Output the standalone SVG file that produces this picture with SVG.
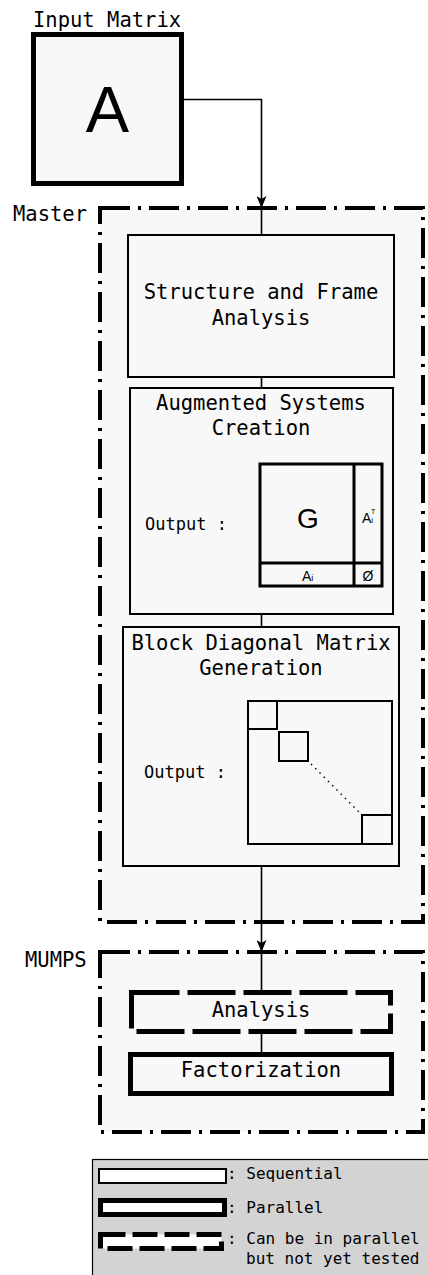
<svg xmlns="http://www.w3.org/2000/svg" width="428" height="1275" viewBox="0 0 428 1275">
<style>
.t{font-family:"DejaVu Sans Mono","Liberation Mono",monospace;fill:#000}
.h{font-size:20.5px}
.s{font-size:17px}
.l{font-size:16px}
.sans{font-family:"Liberation Sans",Arial,sans-serif;fill:#000}
.node{fill:#f8f8f8;stroke:#000;stroke-width:2}
.frame{fill:#f8f8f8;stroke:#000;stroke-width:4;stroke-dasharray:30 8 3 8}
.conn{fill:none;stroke:#000;stroke-width:1.6}
</style>
<defs>
<marker id="arr" viewBox="0 0 12 10" refX="12" refY="5" markerWidth="12" markerHeight="10" markerUnits="userSpaceOnUse" orient="auto">
<path d="M0,0 L12,5 L0,10 L3,5 z" fill="#000"/>
</marker>
</defs>
<rect width="428" height="1275" fill="#fff"/>

<g id="input">
<text class="t h" x="33" y="27">Input Matrix</text>
<rect x="33.5" y="34.5" width="148" height="149" fill="#f8f8f8" stroke="#000" stroke-width="5"/>
<text class="sans" x="107.5" y="132" font-size="65" text-anchor="middle">A</text>
</g>

<g id="master">
<rect class="frame" x="100" y="208" width="323" height="714"/>
<text class="t h" x="13" y="221">Master</text>
</g>

<g id="mumps">
<rect class="frame" x="100" y="952" width="323" height="180"/>
<text class="t h" x="25" y="967">MUMPS</text>
</g>

<g id="structure">
<rect class="node" x="128" y="235" width="266" height="142"/>
<text class="t h" x="261" y="299" text-anchor="middle">Structure and Frame</text>
<text class="t h" x="261" y="325" text-anchor="middle">Analysis</text>
</g>

<g id="augmented">
<rect class="node" x="130" y="388" width="263" height="226"/>
<text class="t h" x="261" y="410" text-anchor="middle">Augmented Systems</text>
<text class="t h" x="261" y="435" text-anchor="middle">Creation</text>
<text class="t s" x="145" y="530">Output :</text>
<rect x="260" y="464" width="122" height="122" fill="#f8f8f8" stroke="#000" stroke-width="3"/>
<line x1="354" y1="464" x2="354" y2="586" stroke="#000" stroke-width="3"/>
<line x1="260" y1="563" x2="382" y2="563" stroke="#000" stroke-width="3"/>
<text class="sans" x="308" y="528" font-size="28" text-anchor="middle">G</text>
<text class="sans" x="362" y="523" font-size="14">A<tspan font-size="8" dy="0">i</tspan></text>
<text class="sans" x="371" y="514" font-size="7">T</text>
<text class="sans" x="302" y="581" font-size="14">A<tspan font-size="9">i</tspan></text>
<text class="sans" x="368" y="581" font-size="14" text-anchor="middle">Ø</text>
</g>

<g id="blockdiag">
<rect class="node" x="123" y="627" width="276" height="239"/>
<text class="t h" x="261" y="650" text-anchor="middle">Block Diagonal Matrix</text>
<text class="t h" x="261" y="675" text-anchor="middle">Generation</text>
<text class="t s" x="144" y="778">Output :</text>
<rect x="248" y="701" width="144" height="143" fill="#f8f8f8" stroke="#000" stroke-width="2"/>
<rect x="248" y="701" width="29" height="28" fill="none" stroke="#000" stroke-width="2"/>
<rect x="279" y="732" width="29" height="29" fill="none" stroke="#000" stroke-width="2"/>
<rect x="362" y="815" width="30" height="29" fill="none" stroke="#000" stroke-width="2"/>
<line x1="311" y1="764" x2="360" y2="813" stroke="#000" stroke-width="1.5" stroke-dasharray="1.5 4.5"/>
</g>

<g id="analysis">
<rect x="131.5" y="992.5" width="259" height="39" fill="#f8f8f8" stroke="#000" stroke-width="5" stroke-dasharray="48 8"/>
<text class="t h" x="261" y="1017" text-anchor="middle">Analysis</text>
</g>

<g id="factorization">
<rect x="130.5" y="1054.5" width="261" height="39" fill="#f8f8f8" stroke="#000" stroke-width="5"/>
<text class="t h" x="261" y="1077" text-anchor="middle">Factorization</text>
</g>

<g id="connectors">
<path class="conn" d="M184,99.5 H261.5 V208" marker-end="url(#arr)"/>
<line class="conn" x1="261.5" y1="208" x2="261.5" y2="235"/>
<line class="conn" x1="261.5" y1="377" x2="261.5" y2="388"/>
<line class="conn" x1="261.5" y1="614" x2="261.5" y2="627"/>
<path class="conn" d="M261.5,866 V952" marker-end="url(#arr)"/>
<line class="conn" x1="261.5" y1="952" x2="261.5" y2="990"/>
<line class="conn" x1="261.5" y1="1033" x2="261.5" y2="1052"/>
</g>

<g id="legend">
<rect x="92.5" y="1159.5" width="345" height="118" fill="#d3d3d3" stroke="#000" stroke-width="1.2"/>
<rect x="99" y="1169" width="127" height="14" fill="#fff" stroke="#000" stroke-width="2"/>
<text class="t l" x="227" y="1179">: Sequential</text>
<rect x="100.5" y="1200.5" width="124" height="14" fill="#fff" stroke="#000" stroke-width="5"/>
<text class="t l" x="227" y="1213">: Parallel</text>
<rect x="100.5" y="1234.5" width="121" height="14" fill="#fff" stroke="#000" stroke-width="5" stroke-dasharray="25 7"/>
<text class="t l" x="227" y="1244">: Can be in parallel</text>
<text class="t l" x="246" y="1264">but not yet tested</text>
</g>
</svg>
